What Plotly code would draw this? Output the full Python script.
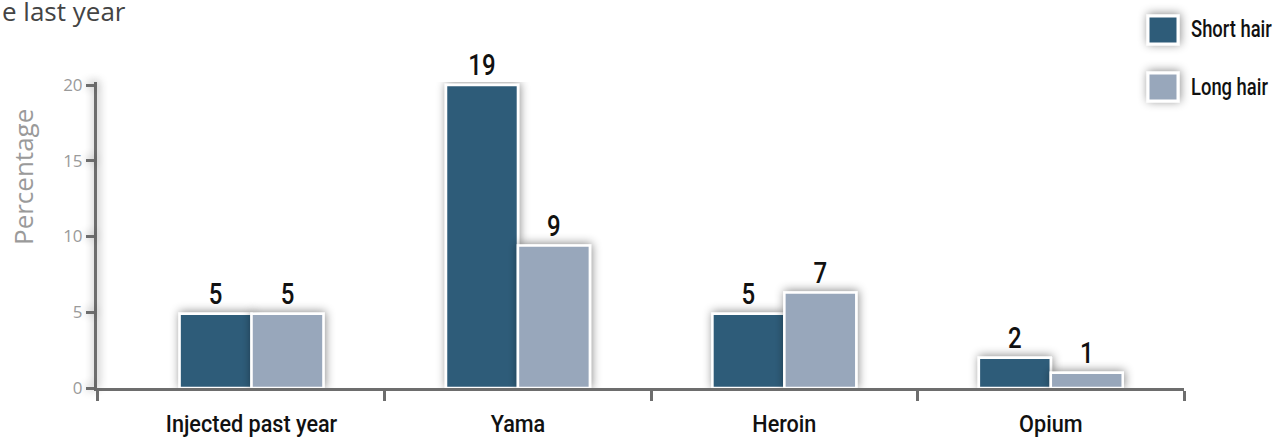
import plotly.graph_objects as go

# Chart data
categories = ["Injected past year", "Yama", "Heroin", "Opium"]
series_names = ["Short hair", "Long hair"]
short_hair = [4.9, 20.0, 4.9, 2.0]
long_hair = [4.9, 9.4, 6.3, 1.0]
short_labels = ["5", "19", "5", "2"]
long_labels = ["5", "9", "7", "1"]
y_ticks = [0, 5, 10, 15, 20]
colors = ["#2E5B79", "#98A7BB"]

W, H = 1277, 439
M_L, M_R, M_T, M_B = 97, 93, 82, 51
PLOT_W = W - M_L - M_R
PLOT_H = H - M_T - M_B

AXIS_COLOR = "#6D6D6D"
COND = "Roboto, sans-serif"
GEOM = "Open Sans, sans-serif"


def px_x(px):
    return (px - M_L) / PLOT_W


def px_y(py):
    return (H - M_B - py) / PLOT_H


fig = go.Figure()

for name, vals, labels, col in zip(series_names, [short_hair, long_hair],
                                   [short_labels, long_labels], colors):
    fig.add_trace(go.Bar(
        name=name, x=categories, y=vals,
        text=labels, textposition="outside", cliponaxis=False,
        textfont=dict(family=COND, size=30, color="#111111", weight=500),
        marker=dict(color=col, line=dict(color="white", width=2.5)),
        showlegend=False,
    ))

# empty trace so the boundary-tick axis gets drawn
fig.add_trace(go.Scatter(x=[], y=[], xaxis="x2", showlegend=False))

x_range = [-0.58, 3.5]

fig.update_layout(
    width=W, height=H,
    margin=dict(l=M_L, r=M_R, t=M_T, b=M_B, autoexpand=False),
    paper_bgcolor="white", plot_bgcolor="white",
    barmode="group", bargap=0.46, bargroupgap=0,
    xaxis=dict(
        range=x_range, showline=False, showgrid=False, zeroline=False,
        ticks="", ticklabelstandoff=19, automargin=False,
        tickfont=dict(family=COND, size=24, color="#111111", weight=500),
    ),
    xaxis2=dict(
        overlaying="x", anchor="y", side="bottom", range=x_range,
        tickmode="array", tickvals=[-0.58, 0.5, 1.5, 2.5, 3.5],
        showticklabels=False, ticks="outside", ticklen=10, tickwidth=3,
        tickcolor=AXIS_COLOR, showline=True, linewidth=3, linecolor=AXIS_COLOR,
        showgrid=False, zeroline=False, automargin=False,
    ),
    yaxis=dict(
        range=[0, 20.2], tickmode="array", tickvals=y_ticks,
        ticks="outside", ticklen=8, tickwidth=3, tickcolor=AXIS_COLOR,
        showline=True, linewidth=3, linecolor=AXIS_COLOR,
        showgrid=False, zeroline=False, automargin=False,
        tickfont=dict(family=GEOM, size=17, color="#9A9A9A"),
    ),
)

# y axis title sits above the axis middle in the reference
fig.add_annotation(
    text="Percentage", xref="paper", yref="paper", textangle=-90,
    x=px_x(23), y=px_y(177), xanchor="center", yanchor="middle",
    showarrow=False, font=dict(family=GEOM, size=26, color="#9A9A9A"),
)

# title (partly cut off at the edge in the reference)
fig.add_annotation(
    text="e last year", xref="paper", yref="paper",
    x=px_x(0), y=px_y(11), xanchor="left", yanchor="middle",
    showarrow=False, font=dict(family=GEOM, size=26, color="#444444"),
)

# custom legend with large square swatches
legend_rows = [30, 87]
for name, col, cy in zip(series_names, colors, legend_rows):
    fig.add_shape(
        type="rect", xref="paper", yref="paper",
        x0=px_x(1148), x1=px_x(1178), y0=px_y(cy - 14), y1=px_y(cy + 14),
        fillcolor=col, line=dict(color="white", width=3), layer="above",
    )
    fig.add_annotation(
        text=name, xref="paper", yref="paper", align="left",
        x=px_x(1189), y=px_y(cy), xanchor="left", yanchor="middle",
        showarrow=False, font=dict(family=COND, size=23, color="#111111", weight=500),
    )

# page margin off, drop shadows, and narrowed "condensed" labels
post_js = """
document.body.style.margin = '0';
var gd = document.getElementById('{plot_id}');
function squeeze(el, k) {
  if (el.getAttribute('data-sq')) return;
  var w = el.getComputedTextLength();
  if (!w) return;
  el.setAttribute('textLength', (w * k).toFixed(2));
  el.setAttribute('lengthAdjust', 'spacingAndGlyphs');
  el.setAttribute('data-sq', '1');
  var bg = el.parentNode && el.parentNode.querySelector('rect.bg');
  if (bg) bg.setAttribute('width', (w * k + 4).toFixed(2));
}
function decorate() {
  var svg = gd.querySelector('svg.main-svg');
  if (!svg) return;
  var ns = 'http://www.w3.org/2000/svg';
  if (!document.getElementById('dshadow')) {
    var defs = svg.querySelector('defs');
    var f = document.createElementNS(ns, 'filter');
    f.setAttribute('id', 'dshadow');
    f.setAttribute('filterUnits', 'userSpaceOnUse');
    f.setAttribute('x', '-3000'); f.setAttribute('y', '-3000');
    f.setAttribute('width', '6000'); f.setAttribute('height', '6000');
    var d = document.createElementNS(ns, 'feDropShadow');
    d.setAttribute('dx', '1'); d.setAttribute('dy', '-1');
    d.setAttribute('stdDeviation', '5');
    d.setAttribute('flood-color', '#000'); d.setAttribute('flood-opacity', '0.45');
    f.appendChild(d);
    defs.appendChild(f);
  }
  gd.querySelectorAll('.bars .point path, .shapelayer path, .xlines-above, .ylines-above, .xtick, .ytick').forEach(function (p) {
    if (p.tagName === 'path') p.setAttribute('filter', 'url(#dshadow)');
  });
  gd.querySelectorAll('.bartext').forEach(function (t) { squeeze(t, 0.8); });
  gd.querySelectorAll('.xtick text').forEach(function (t) { squeeze(t, 0.9); });
  gd.querySelectorAll('.annotation-text').forEach(function (t) {
    if (t.textContent.indexOf('hair') >= 0) squeeze(t, 0.8);
  });
}
decorate();
gd.on('plotly_afterplot', decorate);
"""

fig.write_html("out.html", post_script=post_js, config={"displayModeBar": False})
